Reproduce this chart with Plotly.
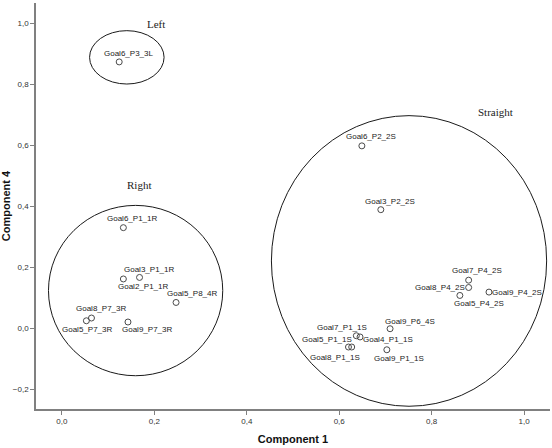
import plotly.graph_objects as go

# ---- data ----
labels = ["Goal6_P3_3L",
          "Goal6_P1_1R", "Goal3_P1_1R", "Goal2_P1_1R", "Goal5_P8_4R",
          "Goal8_P7_3R", "Goal5_P7_3R", "Goal9_P7_3R",
          "Goal6_P2_2S", "Goal3_P2_2S", "Goal7_P4_2S", "Goal8_P4_2S",
          "Goal5_P4_2S", "Goal9_P4_2S", "Goal9_P6_4S", "Goal7_P1_1S",
          "Goal4_P1_1S", "Goal5_P1_1S", "Goal8_P1_1S", "Goal9_P1_1S"]
component1 = [0.124,
              0.133, 0.168, 0.133, 0.247,
              0.064, 0.053, 0.143,
              0.649, 0.690, 0.880, 0.880,
              0.861, 0.924, 0.710, 0.637,
              0.645, 0.620, 0.627, 0.703]
component4 = [0.873,
              0.330, 0.167, 0.162, 0.085,
              0.034, 0.025, 0.021,
              0.598, 0.389, 0.158, 0.134,
              0.108, 0.119, -0.001, -0.024,
              -0.028, -0.061, -0.061, -0.070]

x_ticks = [0.0, 0.2, 0.4, 0.6, 0.8, 1.0]
y_ticks = [-0.2, 0.0, 0.2, 0.4, 0.6, 0.8, 1.0]

# cluster groupings: name, centre (c1, c4), radii (c1, c4)
cluster_names = ["Left", "Right", "Straight"]
cluster_centers = [(0.1405, 0.888), (0.1595, 0.124), (0.751, 0.221)]
cluster_radii = [(0.0806, 0.0874), (0.1885, 0.279), (0.2977, 0.476)]

# ---- styling / label placement (pixel offsets, anchor) ----
label_place = [(9, -8, "center"),
               (8.5, -9.3, "center"), (9, -8.4, "center"), (19.3, 8, "center"), (16.3, -8.7, "center"),
               (9.2, -9.3, "center"), (0.3, 8.3, "center"), (19, 7, "center"),
               (9, -9.3, "center"), (9, -8.3, "center"), (8.7, -9.3, "center"), (-1.5, 0, "right"),
               (19.3, 7.6, "center"), (1, 0, "left"), (20, -7.3, "center"), (-14.6, -8.3, "center"),
               (1, 3, "left"), (-21.8, -7.3, "center"), (-16.7, 10.4, "center"), (12.6, 9, "center")]
cluster_label_pos = [(0.204, 0.997), (0.167, 0.470), (0.938, 0.708)]

sans = "Liberation Sans, Arial, sans-serif"
serif = "Liberation Serif, Times New Roman, serif"

fig = go.Figure()
fig.add_trace(go.Scatter(
    x=component1, y=component4, mode="markers",
    marker=dict(symbol="circle-open", size=6, color="#4a4a4a", line=dict(width=1)),
    hovertext=labels, showlegend=False))

annotations = []
for lab, x, y, (dx, dy, anc) in zip(labels, component1, component4, label_place):
    annotations.append(dict(x=x, y=y, xref="x", yref="y", text=lab, showarrow=False,
                            xanchor=anc, yanchor="middle", xshift=dx, yshift=-dy,
                            font=dict(family=sans, size=8, color="#222222")))

shapes = []
for name, (cx, cy), (rx, ry), (lx, ly) in zip(cluster_names, cluster_centers, cluster_radii, cluster_label_pos):
    shapes.append(dict(type="circle", xref="x", yref="y",
                       x0=cx - rx, x1=cx + rx, y0=cy - ry, y1=cy + ry,
                       line=dict(color="#1a1a1a", width=1)))
    annotations.append(dict(x=lx, y=ly, xref="x", yref="y", text=name, showarrow=False,
                            xanchor="center", yanchor="middle",
                            font=dict(family=serif, size=11, color="#222222")))

axis_common = dict(showgrid=False, zeroline=False, showline=True, linecolor="#808080",
                   linewidth=1.5, ticks="outside", ticklen=4, tickcolor="#808080",
                   tickwidth=1, tickformat=".1f",
                   tickfont=dict(family=sans, size=8, color="#333333"))

fig.update_layout(
    width=552, height=448,
    margin=dict(l=36, r=2, t=3, b=39),
    paper_bgcolor="white", plot_bgcolor="white",
    separators=",.",
    annotations=annotations, shapes=shapes,
    xaxis=dict(range=[-0.056, 1.056], tickvals=x_ticks, automargin=False,
               title=dict(text="<b>Component 1</b>", standoff=10,
                          font=dict(family=sans, size=11, color="#111111")),
               **axis_common),
    yaxis=dict(range=[-0.264, 1.066], tickvals=y_ticks, automargin=False,
               title=dict(text="<b>Component 4</b>", standoff=6,
                          font=dict(family=sans, size=11, color="#111111")),
               **axis_common),
)

fig.write_html("out.html")
